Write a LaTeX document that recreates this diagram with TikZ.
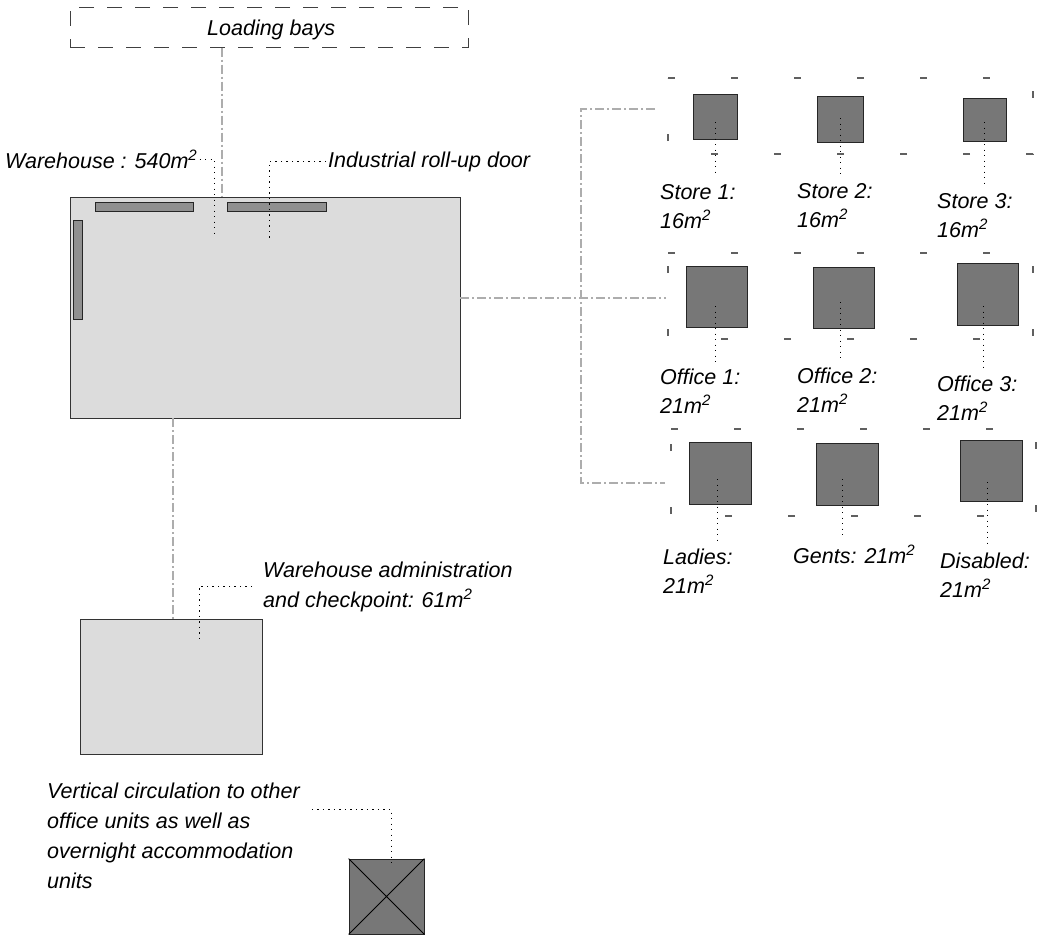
\documentclass[tikz,border=0pt]{standalone}
\usepackage{fontspec}
\setmainfont{Liberation Sans}
\usetikzlibrary{calc}
\definecolor{roomgray}{HTML}{777777}
\definecolor{hallgray}{HTML}{DCDCDC}
\definecolor{bargray}{HTML}{909090}
\definecolor{conngray}{HTML}{ADADAD}
\definecolor{framegray}{HTML}{606060}
\begin{document}
\begin{tikzpicture}[x=1pt,y=-1pt,
  lbl/.style={font=\fontsize{21.5pt}{29pt}\selectfont\itshape, inner sep=0pt, align=left, anchor=base west},
  lbltall/.style={lbl, font=\fontsize{21.5pt}{30pt}\selectfont\itshape},
  room/.style={draw=black!85, fill=roomgray, line width=0.8pt, inner sep=0pt},
  hall/.style={draw=black!80, fill=hallgray, line width=0.8pt, inner sep=0pt},
  bar/.style={draw=black!85, fill=bargray, line width=0.8pt, inner sep=0pt},
  conn/.style={draw=conngray, line width=2.2pt, dash pattern=on 9pt off 3pt on 2pt off 3pt},
  leader/.style={draw=black, line width=1pt, dash pattern=on 1.2pt off 4.3pt},
  roomframe/.style={draw=framegray, line width=1.3pt, dash pattern=on 7pt off 56pt},
  bayframe/.style={draw=black!75, line width=1pt, dash pattern=on 15pt off 13pt, inner sep=0pt}
]
\useasboundingbox (0,0) rectangle (1038,937);

% ---------- frames of the room grid ----------
\draw[roomframe] (668,78) -- (1033,78) -- (1033,154) -- (668,154) -- cycle;
\draw[roomframe] (668,253) -- (1033,253) -- (1033,339) -- (668,339) -- cycle;
\draw[roomframe] (671,429) -- (1036,429) -- (1036,516) -- (671,516) -- cycle;

% ---------- main blocks ----------
\node[bayframe, minimum width=398pt, minimum height=40pt] (lb) at (269,27) {};
\node[lbl] (lbl) at (207,35) {Loading bays};

\node[hall, minimum width=390pt, minimum height=221pt] (wh) at (265,307.5) {};
\node[bar, minimum width=98pt, minimum height=9pt] (bar1) at (144,206.5) {};
\node[bar, minimum width=99pt, minimum height=9pt] (bar2) at (276.5,206.5) {};
\node[bar, minimum width=9pt, minimum height=99pt] (bar3) at (77.5,269.5) {};

\node[hall, minimum width=182pt, minimum height=135pt] (adm) at (171,686.5) {};

\node[room, minimum width=75pt, minimum height=75pt] (st) at (386.5,896.5) {};
\draw[black, line width=0.8pt] (st.north west) -- (st.south east) (st.north east) -- (st.south west);

% ---------- rooms ----------
\node[room, minimum width=44pt, minimum height=45pt] (s1) at (715,116.5) {};
\node[room, minimum width=46pt, minimum height=46pt] (s2) at (840,119) {};
\node[room, minimum width=43pt, minimum height=43pt] (s3) at (984.5,119.5) {};
\node[room, minimum width=61pt, minimum height=61pt] (o1) at (716.5,296.5) {};
\node[room, minimum width=61pt, minimum height=61pt] (o2) at (843.5,297.5) {};
\node[room, minimum width=61pt, minimum height=62pt] (o3) at (987.5,294) {};
\node[room, minimum width=62pt, minimum height=62pt] (la) at (720,473) {};
\node[room, minimum width=62pt, minimum height=62pt] (ge) at (847,474) {};
\node[room, minimum width=62pt, minimum height=61pt] (di) at (991,470.5) {};

% ---------- connectors ----------
\coordinate (lbx) at (222,0);
\coordinate (adx) at (173,0);
\coordinate (t3) at (581,483);
\coordinate (f1) at (655,109);
\coordinate (f2) at (666,298);
\coordinate (f3) at (665,483);
\draw[conn] (lb.south -| lbx) -- (wh.north -| lbx);
\draw[conn] (wh.south -| adx) -- (adm.north -| adx);
\draw[conn] (wh.east |- f2) -- (f2);
\draw[conn] (f1) -| (t3) -- (f3);

% ---------- labels (multi-line: anchor on the last line's baseline) ----------
\node[lbl] (whl) at (5,168) {Warehouse : 540m\textsuperscript{2}};
\node[lbl] (rud) at (328,167) {Industrial roll-up door};
\node[lbl] (s1l) at (660,228) {Store 1:\\16m\textsuperscript{2}};
\node[lbl] (s2l) at (797,227) {Store 2:\\16m\textsuperscript{2}};
\node[lbl] (s3l) at (937,237) {Store 3:\\16m\textsuperscript{2}};
\node[lbl] (o1l) at (660,413) {Office 1:\\21m\textsuperscript{2}};
\node[lbl] (o2l) at (797,412) {Office 2:\\21m\textsuperscript{2}};
\node[lbl] (o3l) at (937,420) {Office 3:\\21m\textsuperscript{2}};
\node[lbl] (lal) at (663,593) {Ladies:\\21m\textsuperscript{2}};
\node[lbl] (gel) at (793,563) {Gents: 21m\textsuperscript{2}};
\node[lbl] (dil) at (940,597) {Disabled:\\21m\textsuperscript{2}};
\node[lbltall] (adml) at (263,607) {Warehouse administration\\and checkpoint: 61m\textsuperscript{2}};
\node[lbltall] (vcl) at (47,888) {Vertical circulation to other\\office units as well as\\overnight accommodation\\units};

% ---------- leaders ----------
\coordinate (wha) at (214,234);
\coordinate (rua) at (269,238);
\draw[leader] ([xshift=2pt]whl.east) -| (wha);
\draw[leader] ([xshift=-2pt]rud.west) -| (rua);

\coordinate (s1a) at (715,122);
\coordinate (s2a) at (840,118);
\coordinate (s3a) at (984,122);
\coordinate (o1a) at (715,306);
\coordinate (o2a) at (840,302);
\coordinate (o3a) at (983,306);
\coordinate (laa) at (717,479);
\coordinate (gea) at (842,479);
\coordinate (dia) at (987,482);
\draw[leader] (s1a) -- ($(s1l.north -| s1a)+(0,-7)$);
\draw[leader] (s2a) -- ($(s2l.north -| s2a)+(0,-7)$);
\draw[leader] (s3a) -- ($(s3l.north -| s3a)+(0,-7)$);
\draw[leader] (o1a) -- ($(o1l.north -| o1a)+(0,-7)$);
\draw[leader] (o2a) -- ($(o2l.north -| o2a)+(0,-7)$);
\draw[leader] (o3a) -- ($(o3l.north -| o3a)+(0,-7)$);
\draw[leader] (laa) -- ($(lal.north -| laa)+(0,-7)$);
\draw[leader] (gea) -- ($(gel.north -| gea)+(0,-7)$);
\draw[leader] (dia) -- ($(dil.north -| dia)+(0,-7)$);

\coordinate (adma) at (199,638);
\draw[leader] ([xshift=-11pt]adml.west) -| (adma);
\coordinate (sta) at (391,866);
\draw[leader] ($(vcl.north east)+(12,27)$) -| (sta);
\end{tikzpicture}
\end{document}
